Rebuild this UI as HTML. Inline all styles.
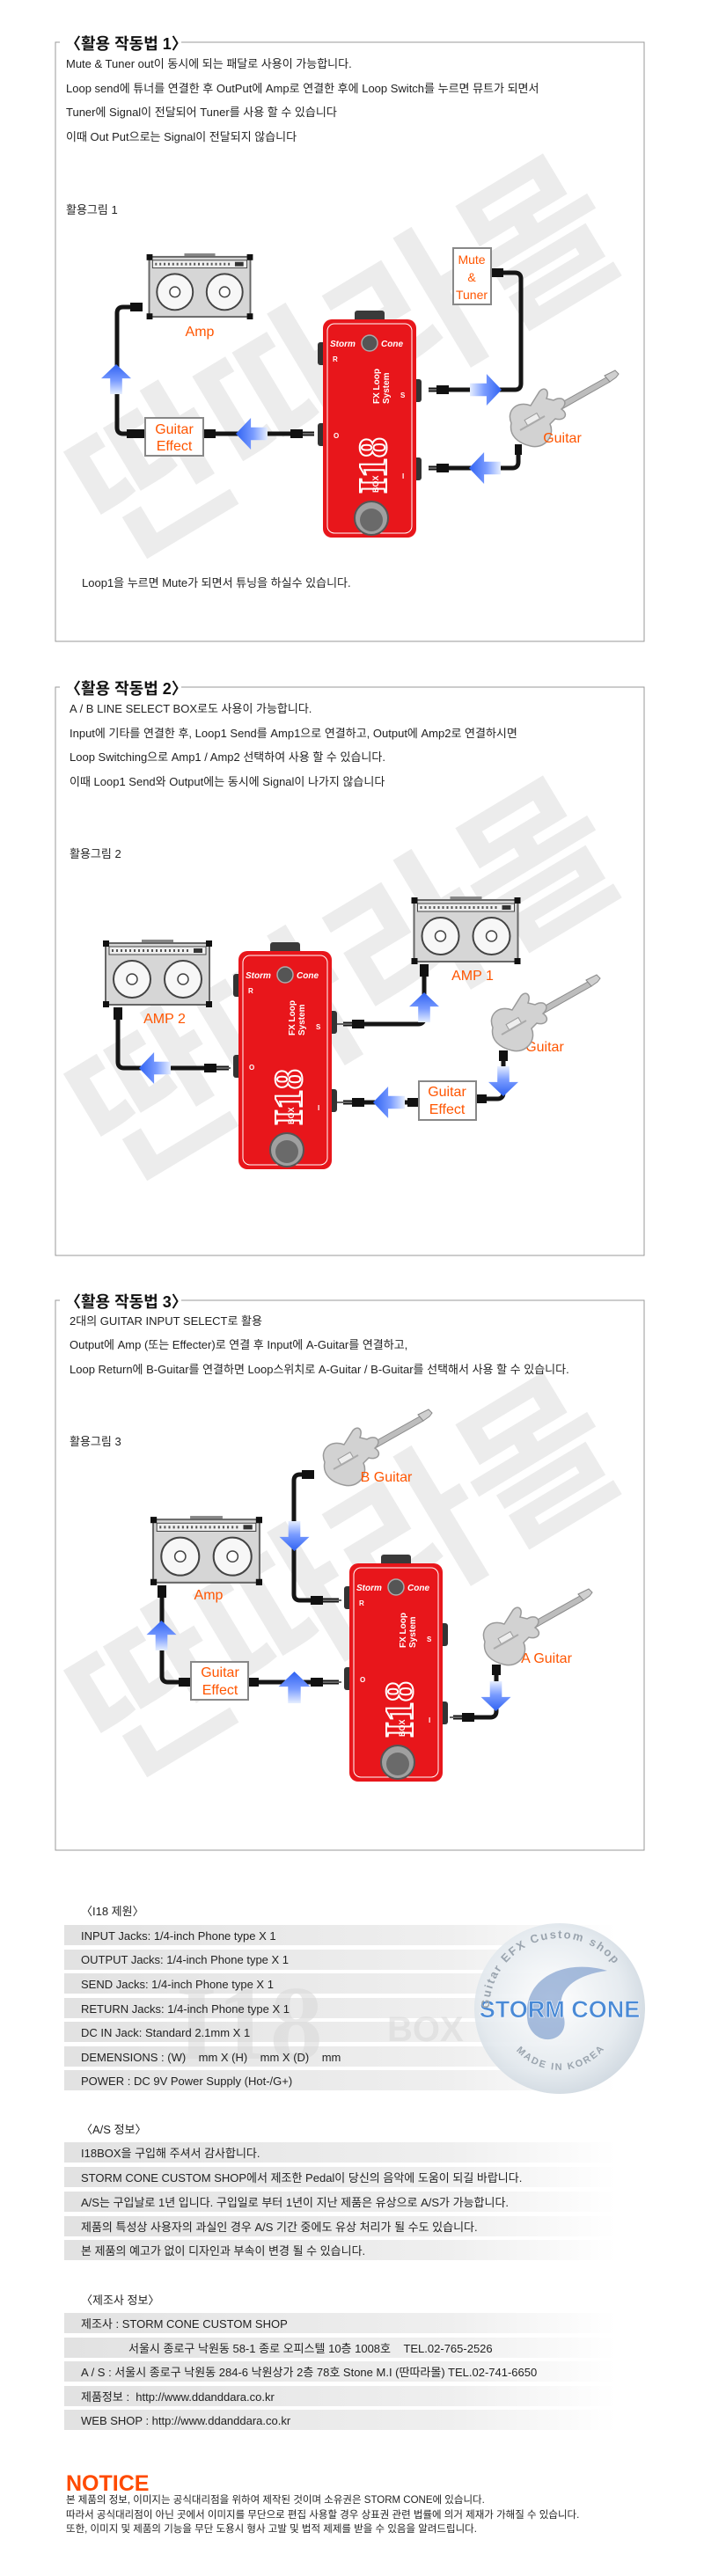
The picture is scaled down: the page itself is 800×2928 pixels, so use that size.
<!DOCTYPE html>
<html><head><meta charset="utf-8"><style>
html,body{margin:0;padding:0;background:#fff;width:800px;height:2928px;overflow:hidden}
svg{display:block}
text{font-family:"Liberation Sans","Noto Sans CJK KR",sans-serif}
</style></head><body>
<svg width="800" height="2928" viewBox="0 0 800 2928" xmlns="http://www.w3.org/2000/svg">
<defs>
<linearGradient id="arw" x1="0" y1="0" x2="0" y2="1"><stop offset="0" stop-color="#2f62f2"/><stop offset="0.55" stop-color="#7a9cff"/><stop offset="1" stop-color="#e6eeff"/></linearGradient>
<linearGradient id="row" x1="0" y1="0" x2="1" y2="0"><stop offset="0" stop-color="#e2e2e2"/><stop offset="0.7" stop-color="#efefef"/><stop offset="1" stop-color="#fff"/></linearGradient>
<radialGradient id="globe" cx="0.45" cy="0.45" r="0.6"><stop offset="0" stop-color="#ffffff"/><stop offset="0.7" stop-color="#e3e9ee"/><stop offset="1" stop-color="#c9d3dc"/></radialGradient>
<symbol id="arrow" viewBox="0 0 40 40"><polygon points="20,0 40,19 28,19 28,40 12,40 12,19 0,19" fill="url(#arw)"/></symbol>
<symbol id="amp" viewBox="0 0 124 78">
<rect x="44" y="0" width="36" height="5" fill="#888"/>
<rect x="3" y="4" width="118" height="70" fill="#d6d6d6" stroke="#666" stroke-width="2"/>
<rect x="7" y="8" width="110" height="9" fill="#efefef" stroke="#444" stroke-width="1"/>
<line x1="10" y1="12.5" x2="100" y2="12.5" stroke="#555" stroke-width="3" stroke-dasharray="2,3"/>
<rect x="103" y="10" width="10" height="5" fill="#333"/>
<circle cx="33" cy="45" r="21" fill="#f7f7f7" stroke="#444" stroke-width="2"/>
<circle cx="33" cy="45" r="6" fill="#fff" stroke="#444" stroke-width="1.5"/>
<circle cx="91" cy="45" r="21" fill="#f7f7f7" stroke="#444" stroke-width="2"/>
<circle cx="91" cy="45" r="6" fill="#fff" stroke="#444" stroke-width="1.5"/>
<rect x="0" y="1" width="7" height="7" fill="#111"/><rect x="117" y="1" width="7" height="7" fill="#111"/>
<rect x="0" y="70" width="7" height="7" fill="#111"/><rect x="117" y="70" width="7" height="7" fill="#111"/>
</symbol>
<symbol id="guitar" viewBox="0 0 135 90">
<polygon points="52,48 120,10 124,15 57,53" fill="#bdbdbd" stroke="#8a8a8a" stroke-width="1"/>
<path d="M118,8 L130,2 L134,6 L131,10 L124,15 Z" fill="#cfcfcf" stroke="#888"/>
<path d="M12,62 C6,48 18,36 34,42 L44,26 C49,20 56,24 52,34 L60,36 C70,30 78,38 69,46 C78,52 72,60 62,57 L56,63 C62,76 50,92 34,88 C20,85 9,76 12,62 Z" fill="#d2d2d2" stroke="#9a9a9a" stroke-width="1.5"/>
<rect x="28" y="54" width="16" height="8" fill="#eee" stroke="#999" transform="rotate(-30 36 58)"/>
<line x1="22" y1="70" x2="50" y2="54" stroke="#aaa" stroke-width="2"/>
</symbol>
</defs>

<!-- watermarks -->
<g fill="#ececec" font-weight="bold" font-size="185">
<text x="400" y="421" text-anchor="middle" dominant-baseline="middle" transform="rotate(-31 400 421)" style="font-family:'Noto Sans CJK KR',sans-serif">딴따라몰</text>
<text x="400" y="1128" text-anchor="middle" dominant-baseline="middle" transform="rotate(-31 400 1128)" style="font-family:'Noto Sans CJK KR',sans-serif">딴따라몰</text>
<text x="400" y="1806" text-anchor="middle" dominant-baseline="middle" transform="rotate(-31 400 1806)" style="font-family:'Noto Sans CJK KR',sans-serif">딴따라몰</text>
</g>

<!-- section frames -->
<g fill="none" stroke="#999" stroke-width="1">
<path d="M68,48 H63 V729 H732 V48 H206"/>
<path d="M68,781 H63 V1427 H732 V781 H206"/>
<path d="M68,1478 H63 V2103 H732 V1478 H206"/>
</g>

<!-- SECTION 1 text -->
<text x="74" y="56" font-size="18" font-weight="bold" fill="#111">〈활용 작동법 1〉</text>
<g font-size="13" fill="#222">
<text x="75" y="77">Mute &amp; Tuner out이 동시에 되는 패달로 사용이 가능합니다.</text>
<text x="75" y="105">Loop send에 튜너를 연결한 후 OutPut에 Amp로 연결한 후에 Loop Switch를 누르면 뮤트가 되면서</text>
<text x="75" y="132">Tuner에 Signal이 전달되어 Tuner를 사용 할 수 있습니다</text>
<text x="75" y="160">이때 Out Put으로는 Signal이 전달되지 않습니다</text>
<text x="75" y="243">활용그림 1</text>
<text x="93" y="667">Loop1을 누르면 Mute가 되면서 튜닝을 하실수 있습니다.</text>
</g>

<!-- SECTION 1 diagram -->
<g fill="none" stroke="#151515" stroke-width="5" stroke-linejoin="round">
<path d="M160,349 H140 Q133,349 133,356 V486 Q133,493 140,493 H164"/>
<path d="M231,493 H357"/>
<path d="M558,310 H585 Q592,310 592,317 V436 Q592,443 585,443 H487"/>
<path d="M589,509 V525 Q589,532 582,532 H487"/>
</g>
<g fill="#111">
<rect x="148" y="344" width="14" height="10"/><rect x="144" y="488" width="20" height="10"/>
<rect x="231" y="488" width="14" height="10"/><rect x="330" y="488" width="14" height="10"/>
<rect x="558" y="305" width="14" height="10"/><rect x="496" y="438" width="14" height="10"/>
<rect x="496" y="527" width="14" height="10"/><rect x="585" y="505" width="8" height="12"/>
</g>
<g stroke="#666" stroke-width="2"><line x1="344" y1="493" x2="357" y2="493"/><line x1="487" y1="443" x2="496" y2="443"/><line x1="487" y1="532" x2="496" y2="532"/></g>
<use href="#amp" x="166" y="288" width="122" height="76"/>
<text x="227" y="382" font-size="16" fill="#ff5500" text-anchor="middle">Amp</text>
<rect x="515" y="282" width="43" height="64" fill="#fff" stroke="#888" stroke-width="2"/>
<g font-size="14" fill="#ff5500" text-anchor="middle"><text x="536" y="300">Mute</text><text x="536" y="320">&amp;</text><text x="536" y="340">Tuner</text></g>
<rect x="165" y="475" width="66" height="43" fill="#fff" stroke="#888" stroke-width="2"/>
<g font-size="16" fill="#ff5500" text-anchor="middle"><text x="198" y="493">Guitar</text><text x="198" y="512">Effect</text></g>
<use href="#arrow" x="113" y="414" width="38" height="34"/>
<use href="#arrow" x="268" y="474" width="36" height="38" transform="rotate(-90 286 493)"/>
<use href="#arrow" x="534" y="423" width="36" height="40" transform="rotate(90 552 443)"/>
<use href="#arrow" x="533" y="512" width="36" height="40" transform="rotate(-90 551 532)"/>
<use href="#guitar" x="569" y="419" width="135" height="90"/>
<text x="639" y="503" font-size="16" fill="#ff5500" text-anchor="middle">Guitar</text>

<!-- pedal 1 -->
<g transform="translate(367,363)">
<rect x="36" y="-10" width="34" height="13" rx="3" fill="#3a3a3a"/>
<rect x="-6" y="26" width="9" height="26" rx="3" fill="#333"/><rect x="-6" y="118" width="9" height="26" rx="3" fill="#333"/>
<rect x="103" y="68" width="9" height="26" rx="3" fill="#333"/><rect x="103" y="157" width="9" height="26" rx="3" fill="#333"/>
<rect x="0" y="0" width="106" height="248" rx="10" fill="#e8161b"/>
<rect x="5" y="5" width="96" height="238" rx="8" fill="none" stroke="#fff" stroke-width="1"/>
<circle cx="53" cy="27" r="9" fill="#555" stroke="#aaa" stroke-width="1.5"/>
<g fill="#fff" font-weight="bold"><text x="8" y="31" font-size="10" font-style="italic">Storm</text><text x="66" y="31" font-size="10" font-style="italic">Cone</text>
<text x="11" y="48" font-size="8">R</text><text x="88" y="89" font-size="8">S</text><text x="12" y="135" font-size="8">O</text><text x="90" y="181" font-size="8">I</text>
<text transform="translate(64,96) rotate(-90)" font-size="10">FX Loop</text><text transform="translate(75,96) rotate(-90)" font-size="10">System</text>
<text transform="translate(63,197) rotate(-90)" font-size="9">BOX</text></g>
<text transform="translate(72,198) rotate(-90)" font-size="46" font-weight="bold" fill="none" stroke="#fff" stroke-width="2" style="font-family:'Liberation Serif',serif">I18</text>
<circle cx="55" cy="226" r="19" fill="#a0a0a0" stroke="#555" stroke-width="2"/><circle cx="55" cy="228" r="13" fill="#6a6a6a"/>
</g>

<!-- SECTION 2 text -->
<text x="74" y="789" font-size="18" font-weight="bold" fill="#111">〈활용 작동법 2〉</text>
<g font-size="13" fill="#222">
<text x="79" y="810">A / B  LINE SELECT BOX로도 사용이 가능합니다.</text>
<text x="79" y="838">Input에 기타를 연결한 후, Loop1 Send를 Amp1으로 연결하고, Output에 Amp2로 연결하시면</text>
<text x="79" y="865">Loop Switching으로 Amp1 / Amp2 선택하여 사용 할 수 있습니다.</text>
<text x="79" y="893">이때 Loop1 Send와 Output에는 동시에 Signal이 나가지 않습니다</text>
<text x="79" y="975">활용그림 2</text>
</g>
<g fill="none" stroke="#151515" stroke-width="5" stroke-linejoin="round">
<path d="M134,1145 V1207 Q134,1214 141,1214 H260"/>
<path d="M390,1164 H475 Q482,1164 482,1157 V1096"/>
<path d="M572,1196 V1242 Q572,1249 565,1249 H541"/>
<path d="M475,1253 H390"/>
</g>
<g fill="#111">
<rect x="129" y="1145" width="10" height="14"/><rect x="232" y="1209" width="14" height="10"/>
<rect x="400" y="1159" width="14" height="10"/><rect x="477" y="1096" width="10" height="14"/>
<rect x="567" y="1194" width="10" height="12"/><rect x="541" y="1244" width="12" height="10"/>
<rect x="400" y="1248" width="14" height="10"/><rect x="463" y="1248" width="12" height="10"/>
</g>
<g stroke="#666" stroke-width="2"><line x1="246" y1="1214" x2="262" y2="1214"/><line x1="382" y1="1164" x2="400" y2="1164"/><line x1="382" y1="1253" x2="400" y2="1253"/></g>
<use href="#amp" x="116" y="1068" width="126" height="78"/>
<use href="#amp" x="467" y="1019" width="125" height="78"/>
<g font-size="16" fill="#ff5500" text-anchor="middle"><text x="187" y="1163">AMP 2</text><text x="537" y="1114">AMP 1</text><text x="619" y="1195">Guitar</text></g>
<use href="#guitar" x="548" y="1106" width="135" height="90"/>
<rect x="476" y="1229" width="65" height="44" fill="#fff" stroke="#888" stroke-width="2"/>
<g font-size="16" fill="#ff5500" text-anchor="middle"><text x="508" y="1246">Guitar</text><text x="508" y="1266">Effect</text></g>
<use href="#arrow" x="158" y="1195" width="36" height="38" transform="rotate(-90 176 1214)"/>
<use href="#arrow" x="463" y="1128" width="38" height="34"/>
<use href="#arrow" x="553" y="1212" width="38" height="34" transform="rotate(180 572 1229)"/>
<use href="#arrow" x="424" y="1234" width="36" height="38" transform="rotate(-90 442 1253)"/>

<g transform="translate(271,1081)">
<rect x="36" y="-10" width="34" height="13" rx="3" fill="#3a3a3a"/>
<rect x="-6" y="26" width="9" height="26" rx="3" fill="#333"/><rect x="-6" y="118" width="9" height="26" rx="3" fill="#333"/>
<rect x="103" y="68" width="9" height="26" rx="3" fill="#333"/><rect x="103" y="157" width="9" height="26" rx="3" fill="#333"/>
<rect x="0" y="0" width="106" height="248" rx="10" fill="#e8161b"/>
<rect x="5" y="5" width="96" height="238" rx="8" fill="none" stroke="#fff" stroke-width="1"/>
<circle cx="53" cy="27" r="9" fill="#555" stroke="#aaa" stroke-width="1.5"/>
<g fill="#fff" font-weight="bold"><text x="8" y="31" font-size="10" font-style="italic">Storm</text><text x="66" y="31" font-size="10" font-style="italic">Cone</text>
<text x="11" y="48" font-size="8">R</text><text x="88" y="89" font-size="8">S</text><text x="12" y="135" font-size="8">O</text><text x="90" y="181" font-size="8">I</text>
<text transform="translate(64,96) rotate(-90)" font-size="10">FX Loop</text><text transform="translate(75,96) rotate(-90)" font-size="10">System</text>
<text transform="translate(63,197) rotate(-90)" font-size="9">BOX</text></g>
<text transform="translate(72,198) rotate(-90)" font-size="46" font-weight="bold" fill="none" stroke="#fff" stroke-width="2" style="font-family:'Liberation Serif',serif">I18</text>
<circle cx="55" cy="226" r="19" fill="#a0a0a0" stroke="#555" stroke-width="2"/><circle cx="55" cy="228" r="13" fill="#6a6a6a"/>
</g>

<!-- SECTION 3 text -->
<text x="74" y="1486" font-size="18" font-weight="bold" fill="#111">〈활용 작동법 3〉</text>
<g font-size="13" fill="#222">
<text x="79" y="1506">2대의 GUITAR INPUT SELECT로 활용</text>
<text x="79" y="1533">Output에 Amp (또는 Effecter)로 연결 후 Input에 A-Guitar를 연결하고,</text>
<text x="79" y="1561">Loop Return에 B-Guitar를 연결하면 Loop스위치로 A-Guitar / B-Guitar를 선택해서 사용 할 수 있습니다.</text>
<text x="79" y="1643">활용그림 3</text>
</g>
<g fill="none" stroke="#151515" stroke-width="5" stroke-linejoin="round">
<path d="M357,1676 H341 Q334,1676 334,1683 V1812 Q334,1819 341,1819 H385"/>
<path d="M184,1802 V1905 Q184,1912 191,1912 H217"/>
<path d="M282,1912 H385"/>
<path d="M564,1894 V1945 Q564,1952 557,1952 H515"/>
</g>
<g fill="#111">
<rect x="343" y="1671" width="14" height="10"/><rect x="353" y="1814" width="14" height="10"/>
<rect x="179" y="1802" width="10" height="14"/><rect x="203" y="1907" width="14" height="10"/>
<rect x="282" y="1907" width="12" height="10"/><rect x="353" y="1907" width="14" height="10"/>
<rect x="559" y="1892" width="10" height="12"/><rect x="525" y="1947" width="14" height="10"/>
</g>
<g stroke="#666" stroke-width="2"><line x1="367" y1="1819" x2="388" y2="1819"/><line x1="367" y1="1912" x2="388" y2="1912"/><line x1="511" y1="1952" x2="525" y2="1952"/></g>
<use href="#guitar" x="357" y="1600" width="135" height="90"/>
<use href="#guitar" x="539" y="1804" width="135" height="90"/>
<use href="#amp" x="171" y="1723" width="127" height="80"/>
<g font-size="16" fill="#ff5500" text-anchor="middle"><text x="439" y="1684">B Guitar</text><text x="237" y="1818">Amp</text><text x="621" y="1890">A Guitar</text></g>
<rect x="217" y="1889" width="65" height="43" fill="#fff" stroke="#888" stroke-width="2"/>
<g font-size="16" fill="#ff5500" text-anchor="middle"><text x="250" y="1906">Guitar</text><text x="250" y="1926">Effect</text></g>
<use href="#arrow" x="315" y="1729" width="39" height="34" transform="rotate(180 334.5 1746)"/>
<use href="#arrow" x="164" y="1842" width="39" height="34"/>
<use href="#arrow" x="315" y="1900" width="39" height="36"/>
<use href="#arrow" x="544" y="1911" width="39" height="34" transform="rotate(180 563.5 1928)"/>

<g transform="translate(397,1777)">
<rect x="36" y="-10" width="34" height="13" rx="3" fill="#3a3a3a"/>
<rect x="-6" y="26" width="9" height="26" rx="3" fill="#333"/><rect x="-6" y="118" width="9" height="26" rx="3" fill="#333"/>
<rect x="103" y="68" width="9" height="26" rx="3" fill="#333"/><rect x="103" y="157" width="9" height="26" rx="3" fill="#333"/>
<rect x="0" y="0" width="106" height="248" rx="10" fill="#e8161b"/>
<rect x="5" y="5" width="96" height="238" rx="8" fill="none" stroke="#fff" stroke-width="1"/>
<circle cx="53" cy="27" r="9" fill="#555" stroke="#aaa" stroke-width="1.5"/>
<g fill="#fff" font-weight="bold"><text x="8" y="31" font-size="10" font-style="italic">Storm</text><text x="66" y="31" font-size="10" font-style="italic">Cone</text>
<text x="11" y="48" font-size="8">R</text><text x="88" y="89" font-size="8">S</text><text x="12" y="135" font-size="8">O</text><text x="90" y="181" font-size="8">I</text>
<text transform="translate(64,96) rotate(-90)" font-size="10">FX Loop</text><text transform="translate(75,96) rotate(-90)" font-size="10">System</text>
<text transform="translate(63,197) rotate(-90)" font-size="9">BOX</text></g>
<text transform="translate(72,198) rotate(-90)" font-size="46" font-weight="bold" fill="none" stroke="#fff" stroke-width="2" style="font-family:'Liberation Serif',serif">I18</text>
<circle cx="55" cy="226" r="19" fill="#a0a0a0" stroke="#555" stroke-width="2"/><circle cx="55" cy="228" r="13" fill="#6a6a6a"/>
</g>

<!-- SPECS -->
<g fill="url(#row)">
<rect x="73" y="2188" width="627" height="23"/><rect x="73" y="2216" width="627" height="23"/><rect x="73" y="2243" width="627" height="23"/><rect x="73" y="2271" width="627" height="23"/><rect x="73" y="2298" width="627" height="23"/><rect x="73" y="2326" width="627" height="23"/><rect x="73" y="2353" width="627" height="23"/>
<rect x="73" y="2435" width="627" height="23"/><rect x="73" y="2463" width="627" height="23"/><rect x="73" y="2491" width="627" height="23"/><rect x="73" y="2519" width="627" height="23"/><rect x="73" y="2546" width="627" height="23"/>
<rect x="73" y="2629" width="627" height="23"/><rect x="73" y="2657" width="627" height="23"/><rect x="73" y="2684" width="627" height="23"/><rect x="73" y="2712" width="627" height="23"/><rect x="73" y="2739" width="627" height="23"/>
</g>
<text x="200" y="2340" font-size="120" font-weight="bold" fill="#d8d8d8" opacity="0.55" style="font-family:'Liberation Serif',serif">I18</text>
<text x="440" y="2320" font-size="40" font-weight="bold" fill="#d8d8d8" opacity="0.55">BOX</text>
<circle cx="636" cy="2283" r="97" fill="url(#globe)" opacity="0.9"/>
<path d="M600,2300 C590,2250 640,2225 690,2240 C650,2245 630,2265 640,2290 C650,2320 610,2330 600,2300 Z" fill="#6f92c8" opacity="0.6"/>
<text x="636" y="2293" font-size="27" font-weight="bold" fill="#4a8ad6" text-anchor="middle" stroke="#fff" stroke-width="0.6">STORM CONE</text>
<path id="arcTop" d="M556,2283 A80,80 0 0 1 716,2283" fill="none"/>
<path id="arcBot" d="M572,2303 A66,66 0 0 0 700,2303" fill="none"/>
<text font-size="13" font-weight="bold" fill="#9aa4ae" letter-spacing="2"><textPath href="#arcTop">Guitar EFX Custom shop</textPath></text>
<text font-size="11" font-weight="bold" fill="#9aa4ae" letter-spacing="2"><textPath href="#arcBot" startOffset="18%">MADE IN KOREA</textPath></text>

<g font-size="13" fill="#222">
<text x="92" y="2177">〈I18 제원〉</text>
<text x="92" y="2205">INPUT Jacks: 1/4-inch Phone type X 1</text>
<text x="92" y="2232">OUTPUT Jacks: 1/4-inch Phone type X 1</text>
<text x="92" y="2260">SEND Jacks: 1/4-inch Phone type X 1</text>
<text x="92" y="2288">RETURN Jacks: 1/4-inch Phone type X 1</text>
<text x="92" y="2315">DC IN Jack: Standard 2.1mm X 1</text>
<text x="92" y="2343" xml:space="preserve">DEMENSIONS : (W)    mm X (H)    mm X (D)    mm</text>
<text x="92" y="2370">POWER : DC 9V Power Supply (Hot-/G+)</text>
<text x="92" y="2425">〈A/S 정보〉</text>
<text x="92" y="2452">I18BOX을 구입해 주셔서 감사합니다.</text>
<text x="92" y="2480">STORM CONE CUSTOM SHOP에서 제조한 Pedal이 당신의 음악에 도움이 되길 바랍니다.</text>
<text x="92" y="2508">A/S는 구입날로 1년 입니다. 구입일로 부터 1년이 지난 제품은 유상으로 A/S가 가능합니다.</text>
<text x="92" y="2536">제품의 특성상 사용자의 과실인 경우 A/S 기간 중에도 유상 처리가 될 수도 있습니다.</text>
<text x="92" y="2563">본 제품의 예고가 없이 디자인과 부속이 변경 될 수 있습니다.</text>
<text x="92" y="2619">〈제조사 정보〉</text>
<text x="92" y="2646">제조사 : STORM CONE CUSTOM SHOP</text>
<text x="146" y="2674" xml:space="preserve">서울시 종로구 낙원동 58-1 종로 오피스텔 10층 1008호    TEL.02-765-2526</text>
<text x="92" y="2701">A / S : 서울시 종로구 낙원동 284-6 낙원상가 2층 78호 Stone M.I (딴따라몰)  TEL.02-741-6650</text>
<text x="92" y="2729" xml:space="preserve">제품정보 :  http://www.ddanddara.co.kr</text>
<text x="92" y="2756">WEB SHOP : http://www.ddanddara.co.kr</text>
</g>
<text x="75" y="2831" font-size="25" font-weight="bold" fill="#ff4a00">NOTICE</text>
<g font-size="11.5" fill="#222">
<text x="75" y="2845">본 제품의 정보, 이미지는 공식대리점을 위하여 제작된 것이며 소유권은 STORM CONE에 있습니다.</text>
<text x="75" y="2862">따라서 공식대리점이 아닌 곳에서 이미지를 무단으로 편집 사용할 경우 상표권 관련 법률에 의거 제재가 가해질 수 있습니다.</text>
<text x="75" y="2878">또한, 이미지 및 제품의 기능을 무단 도용시 형사 고발 및 법적 제제를 받을 수 있음을 알려드립니다.</text>
</g>
</svg>
</body></html>
